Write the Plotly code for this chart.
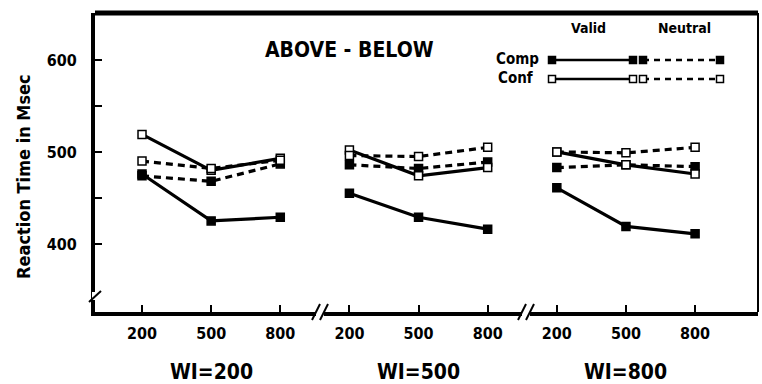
import plotly.graph_objects as go

# ---- data ----
wi_labels = ["WI=200", "WI=500", "WI=800"]
level_labels = ["200", "500", "800"]
comp_valid = [476, 425, 429, 455, 429, 416, 461, 419, 411]
conf_valid = [519, 480, 493, 502, 474, 483, 500, 486, 476]
comp_neutral = [474, 468, 487, 486, 482, 489, 483, 486, 484]
conf_neutral = [490, 482, 491, 496, 495, 505, 500, 499, 505]
y_tick_vals = [400, 450, 500, 550, 600]
y_tick_text = ["400", "", "500", "", "600"]

FONT = "DejaVu Sans Condensed, Liberation Sans Narrow, sans-serif"

# plot area in px
L, R, T, B = 95, 4, 13, 72
W, H = 762, 384
PW, PH = W - L - R, H - T - B


def px(xp):
    return (xp - L) / PW


def py(yp):
    return (H - B - yp) / PH


fig = go.Figure()

series = [
    (comp_valid, "solid", "black"),
    (comp_neutral, "dash", "black"),
    (conf_valid, "solid", "white"),
    (conf_neutral, "dash", "white"),
]
n_lv = len(level_labels)
for vals, dash, fill in series:
    for p in range(len(wi_labels)):
        xs = [p * n_lv + i for i in range(n_lv)]
        ys = vals[p * n_lv:(p + 1) * n_lv]
        fig.add_trace(go.Scatter(
            x=xs, y=ys, mode="lines+markers",
            line=dict(color="black", width=3.2, dash="7px,5px" if dash == "dash" else "solid"),
            marker=dict(symbol="square", size=8, color=fill,
                        line=dict(color="black", width=1.5)),
            showlegend=False, hoverinfo="skip"))

tickvals_x = list(range(len(wi_labels) * n_lv))
ticktext_x = level_labels * len(wi_labels)

fig.update_layout(
    width=W, height=H,
    margin=dict(l=L, r=R, t=T, b=B),
    paper_bgcolor="white", plot_bgcolor="white",
    font=dict(family=FONT, color="black"),
    xaxis=dict(range=[-0.68, 8.91], tickvals=tickvals_x, ticktext=ticktext_x,
               showgrid=False, zeroline=False, showline=True, linewidth=4,
               linecolor="black", ticks="inside", ticklen=7, tickwidth=1.5,
               tickcolor="black", ticklabelstandoff=4,
               tickfont=dict(size=16, family=FONT, weight="bold")),
    yaxis=dict(range=[326, 651], tickvals=y_tick_vals, ticktext=y_tick_text,
               showgrid=False, zeroline=False, showline=True, linewidth=4,
               linecolor="black", ticks="inside", ticklen=7, tickwidth=1.5,
               tickcolor="black", ticklabelstandoff=11,
               tickfont=dict(size=16, family=FONT, weight="bold")),
)

shapes = []
# top and right borders
shapes.append(dict(type="line", xref="paper", yref="paper", x0=0, x1=1, y0=1, y1=1,
                   line=dict(color="black", width=5)))
shapes.append(dict(type="line", xref="paper", yref="paper", x0=1, x1=1, y0=0, y1=1,
                   line=dict(color="black", width=2)))
# x-axis breaks
for bx in (320, 526):
    shapes.append(dict(type="rect", xref="paper", yref="paper",
                       x0=px(bx - 4), x1=px(bx + 4), y0=py(316), y1=py(308),
                       fillcolor="white", line=dict(width=0)))
    for dx in (-4, 4):
        shapes.append(dict(type="line", xref="paper", yref="paper",
                           x0=px(bx + dx - 4), x1=px(bx + dx + 4), y0=py(320), y1=py(304),
                           line=dict(color="black", width=2)))
# y-axis break
shapes.append(dict(type="rect", xref="paper", yref="paper",
                   x0=px(92), x1=px(98), y0=py(300), y1=py(292),
                   fillcolor="white", line=dict(width=0)))
shapes.append(dict(type="line", xref="paper", yref="paper",
                   x0=px(89), x1=px(101), y0=py(302), y1=py(291),
                   line=dict(color="black", width=2)))

# legend lines and squares
rows = [(60, "black"), (79, "white")]
for ry, fill in rows:
    for (x0, x1, dash) in ((552, 633, "solid"), (643, 720, "dash")):
        shapes.append(dict(type="line", xref="paper", yref="paper",
                           x0=px(x0), x1=px(x1), y0=py(ry), y1=py(ry),
                           line=dict(color="black", width=2.5,
                                     dash="6px,5px" if dash == "dash" else "solid")))
        for xx in (x0, x1):
            shapes.append(dict(type="rect", xref="paper", yref="paper",
                               xsizemode="pixel", ysizemode="pixel",
                               xanchor=px(xx), yanchor=py(ry),
                               x0=-3.5, x1=3.5, y0=-3.5, y1=3.5,
                               fillcolor=fill, line=dict(color="black", width=1.5)))
fig.update_layout(shapes=shapes)


def label(text, x, y, size, xref="paper", angle=0):
    return dict(text=text, xref=xref, yref="paper", x=x, y=y, textangle=angle,
                xanchor="center", yanchor="middle", showarrow=False,
                font=dict(size=size, family=FONT, weight="bold"))


ann = [label("Reaction Time in Msec", px(23), py(177), 18, angle=-90),
       label("ABOVE - BELOW", 3.0, py(50), 21, xref="x")]
for p, lab in enumerate(wi_labels):
    ann.append(label(lab, p * n_lv + 1, py(372), 21, xref="x"))
ann += [label("Valid", px(588), py(28), 14),
        label("Neutral", px(684), py(28), 14),
        label("Comp", px(517), py(59), 15),
        label("Conf", px(515), py(78), 15)]
fig.update_layout(annotations=ann)

fig.write_html("out.html")
